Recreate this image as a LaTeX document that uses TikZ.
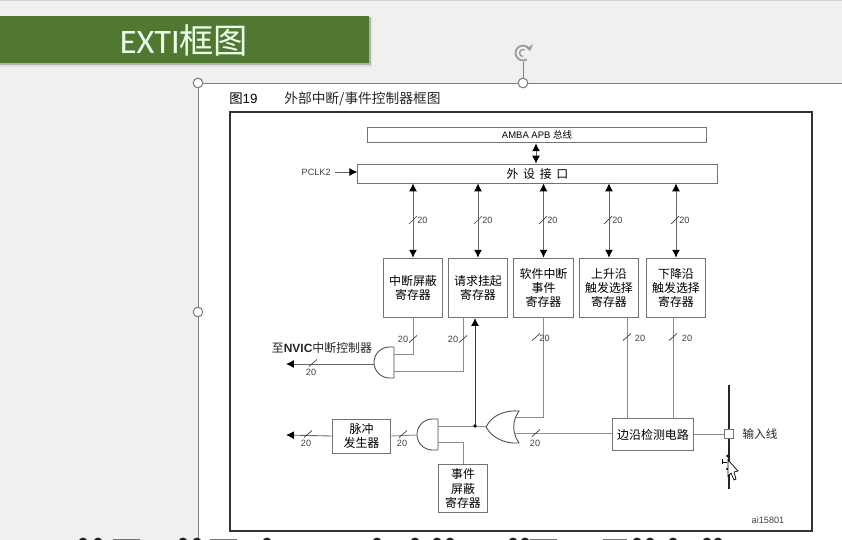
\documentclass[tikz,border=0pt]{standalone}
\usepackage{fontspec}
\setmainfont{Liberation Sans}
\newfontfamily\cjk{Noto Sans CJK SC}
\newfontfamily\titlefont{Carlito}
\usetikzlibrary{arrows.meta}
\definecolor{slidegray}{RGB}{240,240,240}
\definecolor{titlegreen}{RGB}{80,120,48}
\definecolor{handlegray}{RGB}{128,128,128}
\tikzset{
	regbox/.style={draw=black!55,line width=.5pt,fill=white,align=center,inner sep=0pt,font=\cjk\fontsize{6.8}{8.2}\selectfont},
	wire/.style={draw=black!45,line width=.5pt},
	bus/.style={wire,{Latex[length=4.5pt,width=4.5pt,color=black]}-{Latex[length=4.5pt,width=4.5pt,color=black]},black!60},
	outarrow/.style={wire,-{Latex[length=4.5pt,width=4.5pt,color=black]},black!60},
	numlabel/.style={inner sep=0pt,text=black!75,font=\fontsize{5.2}{6}\selectfont},
	handle/.style={circle,draw=handlegray,fill=white,line width=.6pt,minimum size=5.5pt,inner sep=0pt},
}
\begin{document}
\begin{tikzpicture}[x=.02cm,y=-.02cm]
	\useasboundingbox (0,0) rectangle (842,540);
	\fill[slidegray] (0,0) rectangle (842,540);
	\fill[black!18] (0,0) rectangle (842,1.5);
	% selected picture on the slide
	\fill[white] (198,83) rectangle (842,540);
	\draw[handlegray,line width=.5pt] (198,540)--(198,83)--(842,83);
	\draw[handlegray,line width=.5pt] (523,83)--(523,62);
	\node[handle] (h1) at (198,83){};
	\node[handle] (h2) at (523,83){};
	\node[handle] (h3) at (198,312){};
	\draw[handlegray!80,line width=1pt,-{Stealth[length=3.5pt,width=5pt]}] (526.75,59.5) arc (60:345:7.5);
	\draw[handlegray!80,line width=.8pt] (523,56.5) arc (90:300:3.5);
	% title
	\fill[black!12] (0,18) rectangle (372,67);
	\fill[black!30] (0,17) rectangle (370.5,65);
	\fill[titlegreen] (0,16) rectangle (369,63);
	\node[text=white!92!green,inner sep=0pt,font=\titlefont\fontsize{19.5}{22}\selectfont] (title) at (184,40){EXTI{\cjk 框图}};
	% caption
	\node[inner sep=0pt,anchor=west,font=\fontsize{7.6}{9}\selectfont] (fig) at (229,99){{\cjk 图}19};
	\node[inner sep=0pt,anchor=west,text=black!85,font=\cjk\fontsize{7.8}{9}\selectfont] (cap) at (284,99){外部中断/事件控制器框图};
	\draw[black!80,line width=.8pt] (230,112) rectangle (812,531);
	% bus and interface
	\node[regbox,minimum width=193pt,minimum height=9pt] (amba) at (537,135){\fontsize{5.4}{6}\selectfont\rmfamily AMBA APB {\cjk 总线}};
	\node[regbox,minimum width=204.6pt,minimum height=10.8pt] (iface) at (537.5,173.5){外\ \,设\ \,接\ \,口};
	\node[numlabel,anchor=east] (pclk) at (331,172){PCLK2};
	\draw[outarrow] (pclk.east)++(4,0) -- (pclk.east -| iface.west);
	\draw[bus] (amba.south -| 536,0) -- (iface.north -| 536,0);
	% registers
	\node[regbox,minimum width=34pt,minimum height=34pt] (reg1) at (413,288){中断屏蔽\\寄存器};
	\node[regbox,minimum width=34pt,minimum height=34pt] (reg2) at (478,288){请求挂起\\寄存器};
	\node[regbox,minimum width=34pt,minimum height=34pt] (reg3) at (543.5,288){软件中断\\事件\\寄存器};
	\node[regbox,minimum width=34pt,minimum height=34pt] (reg4) at (609,288){上升沿\\触发选择\\寄存器};
	\node[regbox,minimum width=34pt,minimum height=34pt] (reg5) at (676,288){下降沿\\触发选择\\寄存器};
	\foreach \r/\x in {reg1/413,reg2/478,reg3/543,reg4/608,reg5/675}{
		\draw[bus] (\r.north) -- (\r.north |- iface.south);
		\draw[black!75] (\x-4,224) -- (\x+4,216);
		\node[numlabel,anchor=west] at (\x+4,220){20};
	}
	% lower blocks
	\node[regbox,minimum width=46.5pt,minimum height=18.7pt] (edge) at (653,434.5){边沿检测电路};
	\node[regbox,minimum width=33.5pt,minimum height=19.3pt] (pulse) at (361.5,436){脉冲\\发生器};
	\node[regbox,minimum width=28.3pt,minimum height=27.8pt] (evt) at (463,488.5){事件\\屏蔽\\寄存器};
	% input line
	\draw[line width=1.6pt,black!85] (729,385) -- (729,489);
	\node[draw=black!55,fill=white,line width=.5pt,minimum size=5.2pt,inner sep=0pt] (pad) at (729,434){};
	\node[inner sep=0pt,font=\cjk\fontsize{6.6}{8}\selectfont,text=black!85] (inlabel) at (760,434){输入线};
	\node[numlabel] (ref) at (768,520){ai15801};
	% gates
	\draw[line width=.5pt,black!70,fill=white] (394,347) -- (389.5,347) arc (270:90:15.5) -- (394,378) -- cycle;
	\draw[line width=.5pt,black!70,fill=white] (438,419) -- (432.5,419) arc (270:90:15.5) -- (438,450) -- cycle;
	\draw[line width=.5pt,black!70,fill=white] (519,411) .. controls (505,410) and (492,415) .. (486,427) .. controls (492,438) and (505,444) .. (519,443) .. controls (512,433) and (512,421) .. (519,411) -- cycle;
	\coordinate (andA) at (394,354);
	\coordinate (andB) at (394,371);
	\coordinate (andOut) at (374,364);
	\coordinate (nvic) at (286,364);
	\coordinate (andC) at (438,426);
	\coordinate (andD) at (438,442);
	\coordinate (andE) at (417,435);
	\coordinate (orA) at (516,417);
	\coordinate (orB) at (514,433);
	\coordinate (orOut) at (486,426);
	\coordinate (pulseOut) at (286,435);
	\draw[wire] (reg1.south) -- (reg1.south |- andA) -- (andA);
	\draw[wire] (463,318) |- (andB);
	\draw[outarrow] (andOut) -- (nvic);
	\draw[wire] (andC) -- (orOut);
	\draw[wire] (andE) -- (pulse.east);
	\draw[outarrow] (pulse.west) -- (pulseOut);
	\draw[wire] (andD) -| (evt.north);
	\draw[wire] (reg3.south) |- (orA);
	\draw[wire] (edge.west |- orB) -- (orB);
	\draw[wire] (627,318) -- (627,418);
	\draw[wire] (673,318) -- (673,418);
	\draw[wire] (edge.east |- pad) -- (pad);
	\draw[outarrow,black!80] (475,426) -- (475,318);
	\fill[black] (475,426) circle (1.8);
	% bus marks on the lower wires
	\foreach \x/\y in {413/339,463/339,536/337,627/337,673/337,313/363,308/434,403/434,536/433}{
		\draw[black!75] (\x-4,\y+3.5) -- (\x+4,\y-3.5);
	}
	\node[numlabel] at (403,339){20};
	\node[numlabel] at (453,339){20};
	\node[numlabel] at (544.5,338){20};
	\node[numlabel] at (640,338){20};
	\node[numlabel] at (687,338){20};
	\node[numlabel] at (311,372){20};
	\node[numlabel] at (306,443){20};
	\node[numlabel] at (402,443){20};
	\node[numlabel] at (535,443){20};
	\node[inner sep=0pt,text=black!85,font=\cjk\fontsize{6.8}{8}\selectfont] (nvictext) at (322,348){至{\rmfamily\bfseries NVIC}中断控制器};
	% cursor
	\draw[black,fill=white,line width=.4pt] (728,460) -- (728,476) -- (731,473) -- (734,480) -- (736,479) -- (734,472) -- (738,471) -- cycle;
	\fill[black] (727.5,456) circle (1.3) (727,469) circle (1.1);
	\draw[black,line width=.5pt] (722,459.5) -- (722,464.5) (722,462) -- (727,462);
	% top of the next line of text, cut off by the page edge
	\foreach \x in {83,98,183,197,267,377,415,437,450,513,525,637,650,673,707,718}{
		\fill[black!85] (\x,542) circle (4.5);
	}
	\foreach \a/\b in {113/140,210/237,530/557,603/627}{
		\fill[black!55] (\a,538.5) rectangle (\b,540);
	}
\end{tikzpicture}
\end{document}
